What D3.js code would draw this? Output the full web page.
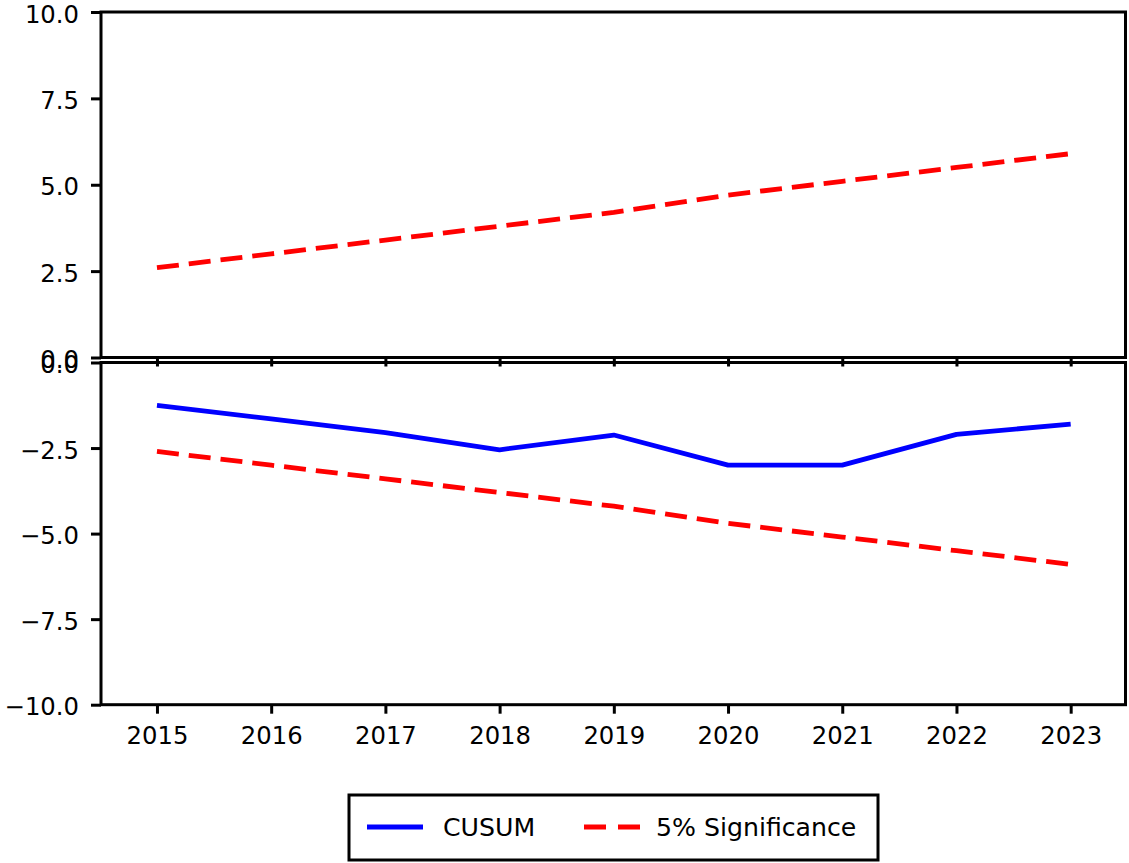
<!DOCTYPE html>
<html>
<head>
<meta charset="utf-8">
<script src="https://cdn.jsdelivr.net/npm/d3@7"></script>
<style>
  html, body { margin: 0; padding: 0; background: #fff; }
  svg { display: block; }
  text { font-family: "DejaVu Sans", sans-serif; fill: #000; }
</style>
</head>
<body>
<svg id="chart" width="1129" height="863"></svg>
<script>
// CUSUM test with 5% significance bounds, yearly
const years = [2015, 2016, 2017, 2018, 2019, 2020, 2021, 2022, 2023];
const cusum = [-1.25, -1.65, -2.05, -2.55, -2.12, -3.0, -3.0, -2.1, -1.8];
const upperBound = [2.6, 3.0, 3.4, 3.8, 4.2, 4.7, 5.1, 5.5, 5.9];
const lowerBound = [-2.6, -3.0, -3.4, -3.8, -4.2, -4.7, -5.1, -5.5, -5.9];
const topTicks = [0, 2.5, 5, 7.5, 10];
const bottomTicks = [0, -2.5, -5, -7.5, -10];
const legendLabels = ["CUSUM", "5% Significance"];

const svg = d3.select("#chart");
const fontSize = 24.3;
const legendFont = 25.2;
const blue = "#0000ff", red = "#ff0000";
const lineW = 4.8;
const spineW = 3;

const left = 101, right = 1125.5;
const topPanel = { y0: 12, y1: 357.5 };
const botPanel = { y0: 362.5, y1: 704.7 };

const x = d3.scaleLinear().domain([2014.51, 2023.48]).range([left, right]);
const yTop = d3.scaleLinear().domain([0, 10]).range([topPanel.y1, topPanel.y0]);
const yBot = d3.scaleLinear().domain([-10, 0]).range([botPanel.y1, botPanel.y0]);

const fmt = d3.format(".1f");

function drawPanel(panel, y, ticks, series, showXLabels) {
  const g = svg.append("g");

  // data lines
  series.forEach(s => {
    const line = d3.line().x((d, i) => x(years[i])).y(d => y(d));
    g.append("path")
      .datum(s.values)
      .attr("d", line)
      .attr("fill", "none")
      .attr("stroke", s.color)
      .attr("stroke-width", lineW)
      .attr("stroke-dasharray", s.dash || null)
      .attr("stroke-linejoin", "round");
  });

  // y axis
  const ya = d3.axisLeft(y).tickValues(ticks).tickFormat(fmt).tickSize(10).tickPadding(12);
  const yg = svg.append("g").attr("transform", `translate(${left},0)`).call(ya);
  yg.select(".domain").remove();
  yg.selectAll(".tick line").attr("stroke", "#000").attr("stroke-width", spineW);
  yg.selectAll(".tick text")
    .style("font-size", fontSize + "px")
    .attr("fill", "#111")
    .attr("dy", "0.42em");

  // x axis along the bottom spine
  const xa = d3.axisBottom(x).tickValues(years).tickFormat(showXLabels ? d3.format("d") : "").tickSize(9).tickPadding(13);
  const xg = svg.append("g").attr("transform", `translate(0,${panel.y1})`).call(xa);
  xg.select(".domain").remove();
  xg.selectAll(".tick line").attr("stroke", "#000").attr("stroke-width", spineW);
  xg.selectAll(".tick text")
    .style("font-size", fontSize + "px")
    .attr("fill", "#111")
    .attr("dy", "0.71em");

  // frame
  svg.append("rect")
    .attr("x", left).attr("y", panel.y0)
    .attr("width", right - left).attr("height", panel.y1 - panel.y0)
    .attr("fill", "none").attr("stroke", "#000").attr("stroke-width", spineW);
}

drawPanel(topPanel, yTop, topTicks, [
  { values: upperBound, color: red, dash: "22,10" }
], false);

drawPanel(botPanel, yBot, bottomTicks, [
  { values: cusum, color: blue },
  { values: lowerBound, color: red, dash: "22,10" }
], true);

// legend
const lg = svg.append("g");
lg.append("rect")
  .attr("x", 349).attr("y", 795).attr("width", 529).attr("height", 65)
  .attr("fill", "#fff").attr("stroke", "#000").attr("stroke-width", spineW);
const ly = 827;
const items = [
  { label: legendLabels[0], color: blue, dash: null, x0: 367, tx: 443 },
  { label: legendLabels[1], color: red, dash: "22,12", x0: 584, tx: 656 }
];
items.forEach(it => {
  lg.append("line")
    .attr("x1", it.x0).attr("x2", it.x0 + 56)
    .attr("y1", ly).attr("y2", ly)
    .attr("stroke", it.color).attr("stroke-width", lineW)
    .attr("stroke-dasharray", it.dash);
  lg.append("text")
    .attr("x", it.tx).attr("y", ly).attr("dy", "0.36em")
    .style("font-size", legendFont + "px")
    .attr("fill", "#111")
    .text(it.label);
});
</script>
</body>
</html>
